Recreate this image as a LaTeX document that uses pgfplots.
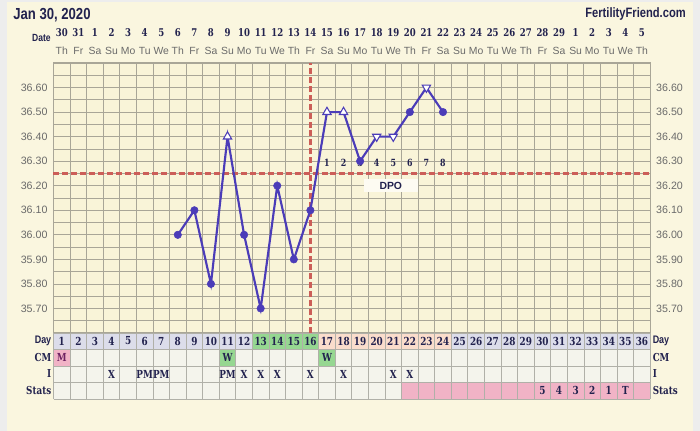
\documentclass[border=0pt]{standalone}
\usepackage{pgfplots}
\pgfplotsset{compat=1.18}
\usepackage{fontspec}
\setmainfont{Liberation Sans}
\newfontfamily\condb{Liberation Sans}[FakeStretch=0.82]
\newfontfamily\slab{DejaVu Serif}[FakeStretch=0.8]
\newfontfamily\tickf{Liberation Sans}
\definecolor{outer}{HTML}{EDEDED}
\definecolor{panel}{HTML}{FAF6DF}
\definecolor{plotbg}{HTML}{F9F4D8}
\definecolor{gridc}{HTML}{A9A697}
\definecolor{lineb}{HTML}{4B3CB8}
\definecolor{covr}{HTML}{CC5E58}
\definecolor{navy}{HTML}{22224E}
\definecolor{tickgrey}{HTML}{6A6A6A}
\definecolor{lav}{HTML}{DCDDEA}
\definecolor{grn}{HTML}{96D791}
\definecolor{peach}{HTML}{FADDCC}
\definecolor{pinkc}{HTML}{F1B3C6}
\definecolor{cellc}{HTML}{F4F4EC}
\definecolor{cellline}{HTML}{B0B0A8}
\definecolor{mcol}{HTML}{6E2262}
\pgfplotstableread{
day temp
8 36.00
9 36.10
10 35.80
11 36.40
12 36.00
13 35.70
14 36.20
15 35.90
16 36.10
17 36.50
18 36.50
19 36.30
20 36.40
21 36.40
22 36.50
23 36.60
24 36.50
}\temps
\pgfplotstableread{
day temp
8 36.00
9 36.10
10 35.80
12 36.00
13 35.70
14 36.20
15 35.90
16 36.10
19 36.30
22 36.50
24 36.50
}\dots
\pgfplotstableread{
day temp
11 36.40
17 36.50
18 36.50
}\ups
\pgfplotstableread{
day temp
20 36.40
21 36.40
23 36.60
}\downs
\begin{document}
\begin{tikzpicture}
\begin{scope}[x=0.75pt,y=0.75pt]
\fill[outer] (0,0) rectangle (700,431);
\fill[panel] (7,0) rectangle (693,429);
% titles
\node[anchor=west, text=navy, font=\condb\bfseries\fontsize{12}{14}\selectfont, inner sep=0] at (13,{431-15}) {Jan 30, 2020};
\node[anchor=east, text=navy, font=\condb\bfseries\fontsize{10.2}{12}\selectfont, inner sep=0] at (686,{431-14}) {FertilityFriend.com};
\node[anchor=east, text=navy, font=\condb\bfseries\fontsize{7.8}{9}\selectfont, inner sep=0] at (51,{431-38}) {Date};
\foreach \n [count=\d] in {30,31,1,2,3,4,5,6,7,8,9,10,11,12,13,14,15,16,17,18,19,20,21,22,23,24,25,26,27,28,29,1,2,3,4,5}{
  \node[text=navy, font=\slab\bfseries\fontsize{8}{9}\selectfont, inner sep=0] at ({53.5+(\d-0.5)*16.575},{431-33}) {\n};
}
\foreach \w [count=\d] in {Th,Fr,Sa,Su,Mo,Tu,We,Th,Fr,Sa,Su,Mo,Tu,We,Th,Fr,Sa,Su,Mo,Tu,We,Th,Fr,Sa,Su,Mo,Tu,We,Th,Fr,Sa,Su,Mo,Tu,We,Th}{
  \node[text=tickgrey, font=\tickf\fontsize{7.8}{9}\selectfont, inner sep=0] at ({53.5+(\d-0.5)*16.575},{431-51}) {\w};
}
\end{scope}
\begin{axis}[
  at={(40.125pt,73.5pt)}, anchor=south west, scale only axis,
  width=447.5pt, height=202.5pt,
  xmin=0.5, xmax=36.5, ymin=35.6, ymax=36.7,
  axis background/.style={fill=plotbg},
  xtick={0.5,1.5,...,36.5}, xticklabels={},
  ytick={35.7,35.8,35.9,36.0,36.1,36.2,36.3,36.4,36.5,36.6},
  yticklabels={35.70,35.80,35.90,36.00,36.10,36.20,36.30,36.40,36.50,36.60},
  minor ytick={35.65,35.75,35.85,35.95,36.05,36.15,36.25,36.35,36.45,36.55,36.65},
  grid=both,
  major grid style={draw=gridc, line width=0.6pt},
  minor grid style={draw=gridc, line width=0.6pt},
  tick style={draw=none},
  axis line style={draw=gridc, line width=0.9pt},
  yticklabel style={font=\tickf\fontsize{8}{9}\selectfont, text=tickgrey, xshift=-1pt},
  clip=false,
]
\addplot[covr, line width=2.2pt, dash pattern=on 4.5pt off 2.2pt] coordinates {(0.5,36.25) (36.5,36.25)};
\addplot[covr, line width=2.2pt, dash pattern=on 4.5pt off 2.2pt] coordinates {(16,35.6) (16,36.7)};
\node[fill=panel!40!white, text=navy, font=\bfseries\fontsize{7.8}{9}\selectfont, inner xsep=12pt, inner ysep=2pt] at (axis cs:20.85,36.20) {DPO};
\addplot[lineb, line width=1.6pt] table[x=day,y=temp] {\temps};
\addplot[only marks, mark=*, mark size=2.8pt, lineb] table[x=day,y=temp] {\dots};
\addplot[only marks, mark=triangle*, mark size=3.6pt, mark options={fill=white, draw=lineb, line width=0.8pt}] table[x=day,y=temp] {\ups};
\addplot[only marks, mark=triangle*, mark size=3.6pt, mark options={fill=white, draw=lineb, line width=0.8pt, rotate=180}] table[x=day,y=temp] {\downs};
\foreach \k in {1,...,8}{
  \edef\tmp{\noexpand\node[text=navy, font=\noexpand\slab\noexpand\bfseries\noexpand\fontsize{7.4}{8}\noexpand\selectfont, inner sep=0] at (axis cs:{16+\k},36.292) {\k};}
  \tmp
}
\end{axis}
\begin{axis}[
  at={(40.125pt,73.5pt)}, anchor=south west, scale only axis,
  width=447.5pt, height=202.5pt,
  xmin=0.5, xmax=36.5, ymin=35.6, ymax=36.7,
  xtick=\empty, axis line style={draw=none},
  ytick={35.7,35.8,35.9,36.0,36.1,36.2,36.3,36.4,36.5,36.6},
  yticklabels={35.70,35.80,35.90,36.00,36.10,36.20,36.30,36.40,36.50,36.60},
  yticklabel pos=right, tick style={draw=none},
  yticklabel style={font=\tickf\fontsize{8}{9}\selectfont, text=tickgrey, xshift=1pt},
]
\end{axis}
\begin{scope}[x=0.75pt,y=0.75pt]
% table
\foreach \d in {1,...,36}{
  \pgfmathsetmacro\xl{53.5+(\d-1)*16.575}
  \pgfmathsetmacro\xr{53.5+\d*16.575}
  \fill[lav] (\xl,82) rectangle (\xr,98);
  \fill[cellc] (\xl,32) rectangle (\xr,82);
}
\foreach \d in {13,14,15,16}{\fill[grn] ({53.5+(\d-1)*16.575},82) rectangle ({53.5+\d*16.575},98);}
\foreach \d in {17,...,24}{\fill[peach] ({53.5+(\d-1)*16.575},82) rectangle ({53.5+\d*16.575},98);}
\fill[pinkc] (53.5,65) rectangle ({53.5+16.575},82);
\foreach \d in {11,17}{\fill[grn] ({53.5+(\d-1)*16.575},65) rectangle ({53.5+\d*16.575},82);}
\fill[pinkc] ({53.5+21*16.575},32) rectangle ({53.5+36*16.575},48.5);
\foreach \k in {0,...,36}{\draw[cellline, line width=0.6pt] ({53.5+\k*16.575},32) -- ({53.5+\k*16.575},98);}
\foreach \yy in {32,48.5,65,82,98}{\draw[cellline, line width=0.6pt] (53.5,\yy) -- (650.2,\yy);}
\foreach \d in {1,...,36}{
  \node[text=navy, font=\slab\bfseries\fontsize{8.3}{9}\selectfont, inner sep=0] at ({53.5+(\d-0.5)*16.575},90) {\d};
}
\node[text=mcol, font=\slab\bfseries\fontsize{8.3}{9}\selectfont, inner sep=0] at ({53.5+0.5*16.575},73.5) {M};
\foreach \d in {11,17}{\node[text=navy, font=\slab\bfseries\fontsize{8.3}{9}\selectfont, inner sep=0] at ({53.5+(\d-0.5)*16.575},73.5) {W};}
\foreach \d in {4,12,13,14,16,18,21,22}{\node[text=navy, font=\slab\bfseries\fontsize{8.3}{9}\selectfont, inner sep=0] at ({53.5+(\d-0.5)*16.575},57) {X};}
\foreach \d in {6,7,11}{\node[text=navy, font=\slab\bfseries\fontsize{8.3}{9}\selectfont, inner sep=0] at ({53.5+(\d-0.5)*16.575},57) {PM};}
\foreach \d/\s in {30/5,31/4,32/3,33/2,34/1,35/T}{\node[text=navy, font=\slab\bfseries\fontsize{8.3}{9}\selectfont, inner sep=0] at ({53.5+(\d-0.5)*16.575},40.5) {\s};}
% row labels
\node[anchor=east, text=navy, font=\condb\bfseries\fontsize{8.2}{9}\selectfont, inner sep=0] at (51.5,90) {Day};
\node[anchor=east, text=navy, font=\slab\bfseries\fontsize{8.2}{9}\selectfont, inner sep=0] at (51.5,73.5) {CM};
\node[anchor=east, text=navy, font=\slab\bfseries\fontsize{8.2}{9}\selectfont, inner sep=0] at (51.5,57) {I};
\node[anchor=east, text=navy, font=\slab\bfseries\fontsize{8.2}{9}\selectfont, inner sep=0] at (51.5,40.5) {Stats};
\node[anchor=west, text=navy, font=\condb\bfseries\fontsize{8.2}{9}\selectfont, inner sep=0] at (652.5,90) {Day};
\node[anchor=west, text=navy, font=\slab\bfseries\fontsize{8.2}{9}\selectfont, inner sep=0] at (652.5,73.5) {CM};
\node[anchor=west, text=navy, font=\slab\bfseries\fontsize{8.2}{9}\selectfont, inner sep=0] at (652.5,57) {I};
\node[anchor=west, text=navy, font=\slab\bfseries\fontsize{8.2}{9}\selectfont, inner sep=0] at (652.5,40.5) {Stats};
\end{scope}
\end{tikzpicture}
\end{document}
